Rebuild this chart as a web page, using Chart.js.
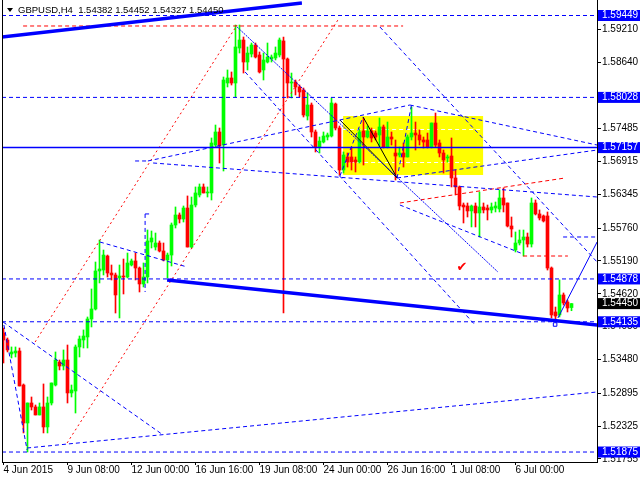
<!DOCTYPE html>
<html>
<head>
<meta charset="utf-8">
<title>GBPUSD,H4</title>
<script src="https://cdn.jsdelivr.net/npm/chart.js@4.4.0/dist/chart.umd.min.js"></script>
<style>
    html, body { margin: 0; padding: 0; background: #fff; }
</style>
</head>
<body>
<canvas id="priceChart" width="640" height="480"></canvas>
<script>
// Global options
const FONT = '"Liberation Sans", Arial, sans-serif';
Chart.defaults.font.family = FONT;
Chart.defaults.font.size = 10;
Chart.defaults.color = '#000';

// H4 candles, one per bar (bar 0 = 4 Jun 2015 16:00)
const opens = [
    1.53940, 1.53819, 1.53576, 1.53594, 1.53628, 1.53038, 1.52379, 1.52726, 1.52657, 1.52518,
    1.52657, 1.52310, 1.52726, 1.53038, 1.53437, 1.53368, 1.53472, 1.52900, 1.52934, 1.53698,
    1.53819, 1.53871, 1.54183, 1.54357, 1.55016, 1.55033, 1.55276, 1.54981, 1.54947, 1.54895,
    1.54929, 1.54912, 1.55120, 1.55190, 1.55068, 1.54791, 1.54912, 1.55519, 1.55432, 1.55502,
    1.55363, 1.55207, 1.55293, 1.55814, 1.55988, 1.55918, 1.56109, 1.55432, 1.56161, 1.56335,
    1.56474, 1.56370, 1.56370, 1.57202, 1.57428, 1.57202, 1.58278, 1.58365, 1.58278, 1.58885,
    1.59024, 1.58642, 1.58781, 1.58937, 1.58764, 1.58504, 1.58642, 1.58694, 1.58712, 1.58764,
    1.59007, 1.58694, 1.58278, 1.58295, 1.58209, 1.58157, 1.57705, 1.57896, 1.57428, 1.57167,
    1.57254, 1.57341, 1.57358, 1.57914, 1.57497, 1.56768, 1.56994, 1.56994, 1.56942, 1.56907,
    1.57445, 1.57341, 1.57445, 1.57410, 1.57376, 1.57515, 1.57167, 1.57341, 1.57063, 1.57029,
    1.57063, 1.56994, 1.57341, 1.57410, 1.57376, 1.57289, 1.57289, 1.57167, 1.57584, 1.57237,
    1.57063, 1.56977, 1.57011, 1.56630, 1.56474, 1.56161, 1.56144, 1.56058, 1.56144, 1.56023,
    1.56127, 1.56109, 1.56075, 1.56109, 1.56092, 1.56283, 1.56196, 1.55797, 1.55380, 1.55502,
    1.55554, 1.55606, 1.55484, 1.56196, 1.56006, 1.55971, 1.55971, 1.55068, 1.54305, 1.54253,
    1.54600, 1.54478, 1.54382,
];
const highs = [
    1.54027, 1.53854, 1.53698, 1.53698, 1.53680, 1.53056, 1.52726, 1.52830, 1.52691, 1.52726,
    1.53056, 1.52830, 1.53073, 1.53611, 1.53472, 1.53646, 1.53732, 1.53038, 1.53732, 1.53888,
    1.53993, 1.54218, 1.54704, 1.55172, 1.55554, 1.55380, 1.55293, 1.55120, 1.54981, 1.55120,
    1.55224, 1.55328, 1.55224, 1.55328, 1.55086, 1.55155, 1.55727, 1.55710, 1.55675, 1.55537,
    1.55502, 1.55328, 1.55849, 1.56127, 1.56023, 1.56144, 1.56318, 1.56300, 1.56474, 1.56526,
    1.56526, 1.56474, 1.57324, 1.57549, 1.57497, 1.58382, 1.58504, 1.58469, 1.59284, 1.59284,
    1.59076, 1.58903, 1.58972, 1.58972, 1.58816, 1.58798, 1.58972, 1.58764, 1.58903, 1.59059,
    1.59076, 1.58712, 1.58451, 1.58330, 1.58243, 1.58191, 1.58105, 1.57931, 1.57463, 1.57341,
    1.57428, 1.57410, 1.58018, 1.57931, 1.57532, 1.57081, 1.57063, 1.57167, 1.56994, 1.57480,
    1.57671, 1.57532, 1.57497, 1.57445, 1.57671, 1.57549, 1.57601, 1.57428, 1.57289, 1.57167,
    1.57237, 1.57376, 1.57862, 1.57601, 1.57463, 1.57341, 1.57410, 1.57584, 1.57757, 1.57289,
    1.57115, 1.57029, 1.57324, 1.56768, 1.56491, 1.56196, 1.56196, 1.56161, 1.56196, 1.56387,
    1.56196, 1.56161, 1.56196, 1.56213, 1.56422, 1.56456, 1.56196, 1.55953, 1.55693, 1.55727,
    1.55727, 1.55675, 1.56283, 1.56248, 1.56075, 1.55988, 1.56040, 1.55086, 1.54391, 1.54860,
    1.54635, 1.54513, 1.54452,
];
const lows = [
    1.53420, 1.53611, 1.53507, 1.53524, 1.53021, 1.52206, 1.51876, 1.52604, 1.52518, 1.52518,
    1.52206, 1.52206, 1.52691, 1.53021, 1.53299, 1.53299, 1.52726, 1.52830, 1.52552, 1.53524,
    1.53680, 1.53680, 1.54045, 1.54339, 1.54808, 1.54947, 1.54912, 1.54860, 1.54287, 1.54201,
    1.54617, 1.54895, 1.55103, 1.54860, 1.54652, 1.54739, 1.54808, 1.55415, 1.55380, 1.55346,
    1.55190, 1.54895, 1.55103, 1.55762, 1.55849, 1.55866, 1.55432, 1.55415, 1.56127, 1.56300,
    1.56370, 1.56300, 1.56248, 1.57167, 1.56890, 1.56751, 1.58209, 1.58243, 1.58035, 1.58798,
    1.58451, 1.58504, 1.58729, 1.58712, 1.58451, 1.58330, 1.58625, 1.58642, 1.58677, 1.58729,
    1.54287, 1.58018, 1.58018, 1.58070, 1.58035, 1.57688, 1.57636, 1.57341, 1.57081, 1.57063,
    1.57237, 1.57289, 1.57341, 1.57463, 1.56682, 1.56716, 1.56820, 1.56768, 1.56734, 1.56890,
    1.56855, 1.57324, 1.57254, 1.57289, 1.57167, 1.57150, 1.57150, 1.57202, 1.56595, 1.56994,
    1.56820, 1.56994, 1.57289, 1.57115, 1.57202, 1.57150, 1.57150, 1.57150, 1.57167, 1.56994,
    1.56716, 1.56907, 1.56474, 1.56335, 1.56075, 1.55849, 1.55953, 1.55780, 1.55780, 1.55606,
    1.56023, 1.55901, 1.56023, 1.56040, 1.56040, 1.56040, 1.55780, 1.55606, 1.55346, 1.55467,
    1.55276, 1.55432, 1.55432, 1.55988, 1.55901, 1.55866, 1.55033, 1.54201, 1.54135, 1.54218,
    1.54426, 1.54305, 1.54327,
];
const closes = [
    1.53819, 1.53646, 1.53611, 1.53628, 1.53021, 1.52379, 1.52726, 1.52657, 1.52518, 1.52657,
    1.52310, 1.52726, 1.53073, 1.53472, 1.53368, 1.53472, 1.52900, 1.52952, 1.53698, 1.53836,
    1.53888, 1.54183, 1.54357, 1.55016, 1.55051, 1.55293, 1.54981, 1.54947, 1.54600, 1.54929,
    1.54912, 1.55155, 1.55190, 1.55068, 1.54791, 1.54912, 1.55537, 1.55589, 1.55502, 1.55363,
    1.55207, 1.55293, 1.55814, 1.55988, 1.55918, 1.56109, 1.55432, 1.56161, 1.56370, 1.56474,
    1.56370, 1.56387, 1.57237, 1.57428, 1.57185, 1.58330, 1.58365, 1.58278, 1.58903, 1.59024,
    1.58642, 1.58798, 1.58937, 1.58729, 1.58469, 1.58677, 1.58729, 1.58729, 1.58798, 1.59024,
    1.58694, 1.58278, 1.58295, 1.58209, 1.58122, 1.57723, 1.57896, 1.57428, 1.57167, 1.57271,
    1.57358, 1.57376, 1.57931, 1.57497, 1.56768, 1.57029, 1.56907, 1.56907, 1.56907, 1.57428,
    1.57341, 1.57445, 1.57324, 1.57341, 1.57515, 1.57167, 1.57341, 1.57306, 1.57011, 1.57063,
    1.56994, 1.57341, 1.57410, 1.57376, 1.57289, 1.57254, 1.57167, 1.57584, 1.57202, 1.57063,
    1.56942, 1.56994, 1.56630, 1.56474, 1.56144, 1.56127, 1.56058, 1.56144, 1.56023, 1.56127,
    1.56075, 1.56075, 1.56127, 1.56144, 1.56283, 1.56161, 1.55797, 1.55745, 1.55502, 1.55554,
    1.55606, 1.55484, 1.56196, 1.56006, 1.55936, 1.55884, 1.55068, 1.54253, 1.54235, 1.54600,
    1.54461, 1.54374, 1.54450,
];

// time axis labels and the bars they sit on
const timeLabels = ['4 Jun 2015', '9 Jun 08:00', '12 Jun 00:00', '16 Jun 16:00', '19 Jun 08:00',
    '24 Jun 00:00', '26 Jun 16:00', '1 Jul 08:00', '6 Jul 00:00'];
const timeLabelBars = [0, 16, 32, 48, 64, 80, 96, 112, 128];

// price scale
const priceTicks = [1.59210, 1.58640, 1.57485, 1.56915, 1.56345, 1.55760, 1.55190,
    1.54620, 1.54050, 1.53480, 1.52895, 1.52325, 1.51755];
const markedLevels = [1.59449, 1.58028, 1.57157, 1.54878, 1.54135, 1.51875];
const lastPrice = 1.54450;
const headerText = 'GBPUSD,H4  1.54382 1.54452 1.54327 1.54450';

// drawn objects: [bar, price, bar, price]
const dashedLevels = [1.59449, 1.58028, 1.54878, 1.54135, 1.51875];
const solidLevels = [1.57157];
const blueDashed = [
    [60.4, 1.58469, 117.9, 1.54079],
    [94.1, 1.59250, 148.4, 1.55172],
    [36.1, 1.56925, 101.6, 1.57896],
    [101.6, 1.57896, 148.4, 1.57202],
    [32.9, 1.56925, 36.1, 1.56925],
    [37.4, 1.56890, 148.4, 1.56300],
    [84.1, 1.56664, 89.9, 1.57688],
    [98.4, 1.56630, 102.1, 1.57931],
    [98.4, 1.56630, 148.4, 1.57115],
    [99.1, 1.56161, 129.9, 1.55311],
    [-0.1, 1.54131, 39.9, 1.52171],
    [0.1, 1.54079, 5.9, 1.51911],
    [5.9, 1.51945, 148.4, 1.52917],
    [24.1, 1.55519, 45.9, 1.55086],
    [35.4, 1.56006, 35.4, 1.54652],
    [35.4, 1.56006, 36.4, 1.56006],
    [139.9, 1.55606, 148.4, 1.55606],
];
const blueDotted = [[58.4, 1.59250, 123.6, 1.54999]];
const blueThin = [[138.6, 1.54201, 148.4, 1.55519]];
const blueThick = [
    [-0.4, 1.59076, 74.6, 1.59666],
    [40.9, 1.54860, 148.4, 1.54079],
];
const blackThin = [
    [84.1, 1.57636, 98.4, 1.56630],
    [89.9, 1.57688, 98.4, 1.56630],
];
const redDashed = [
    [4.9, 1.59267, 99.9, 1.59267],
    [99.1, 1.56196, 140.4, 1.56630],
    [129.9, 1.55276, 141.1, 1.55276],
];
const redDotted = [
    [7.9, 1.53784, 58.4, 1.59284],
    [15.9, 1.52032, 83.6, 1.59371],
];
const rangeBox = [84.9, 119.9, 1.57705, 1.56682];
const rangeBoxLevels = [1.57480, 1.56907];
const lowMark = [137.9, 1.54088];
const checkMark = [114.6, 1.55068];

const X_MIN = -0.375;
const X_MAX = 148.375;
const Y_MIN = 1.51702;
const Y_MAX = 1.59718;

const BLUE = '#0000ff';
const RED = '#ff0000';
const GREEN = '#00ff00';

let candleColor = (i) => closes[i] >= opens[i] ? GREEN : RED;

let segment = (s, color, dash, width) => {
    return {
        type: 'line',
        data: [{x: s[0], y: s[1]}, {x: s[2], y: s[3]}],
        borderColor: color,
        borderWidth: width,
        borderDash: dash,
        pointRadius: 0,
        fill: false,
        tension: 0,
        order: 0,
    };
};

let objectSets = [
    ...dashedLevels.map(v => segment([X_MIN, v, X_MAX, v], BLUE, [4, 3], 1)),
    ...solidLevels.map(v => segment([X_MIN, v, X_MAX, v], BLUE, [], 1.5)),
    ...blueDashed.map(s => segment(s, BLUE, [4, 3], 1)),
    ...blueDotted.map(s => segment(s, BLUE, [2, 1], 1)),
    ...blueThin.map(s => segment(s, BLUE, [], 1)),
    ...blueThick.map(s => segment(s, BLUE, [], 3.5)),
    ...blackThin.map(s => segment(s, '#000', [], 1)),
    ...redDashed.map(s => segment(s, RED, [4, 3], 1)),
    ...redDotted.map(s => segment(s, RED, [2, 3], 1)),
];

// yellow range box, left border and the header text
const mt4Extras = {
    id: 'mt4Extras',
    beforeDatasetsDraw: (chart) => {
        const {ctx, scales: {x, y}} = chart;
        const left = x.getPixelForValue(rangeBox[0]);
        const right = x.getPixelForValue(rangeBox[1]);
        const top = y.getPixelForValue(rangeBox[2]);
        const bottom = y.getPixelForValue(rangeBox[3]);
        ctx.save();
        ctx.fillStyle = '#ffff00';
        ctx.fillRect(left, top, right - left, bottom - top);
        ctx.strokeStyle = '#fff';
        ctx.lineWidth = 1;
        ctx.setLineDash([4, 3]);
        rangeBoxLevels.forEach(v => {
            const py = Math.round(y.getPixelForValue(v)) + 0.5;
            ctx.beginPath();
            ctx.moveTo(left, py);
            ctx.lineTo(right, py);
            ctx.stroke();
        });
        ctx.restore();
    },
    afterDatasetsDraw: (chart) => {
        const {ctx, scales: {x, y}} = chart;
        ctx.save();
        ctx.fillStyle = RED;
        ctx.font = '13px "DejaVu Sans"';
        ctx.textAlign = 'center';
        ctx.textBaseline = 'middle';
        ctx.fillText('\u2714', x.getPixelForValue(checkMark[0]), y.getPixelForValue(checkMark[1]));
        ctx.restore();
    },
    afterDraw: (chart) => {
        const {ctx, chartArea} = chart;
        ctx.save();
        ctx.strokeStyle = '#000';
        ctx.lineWidth = 1;
        ctx.beginPath();
        ctx.moveTo(chartArea.left + 0.5, chartArea.top);
        ctx.lineTo(chartArea.left + 0.5, chartArea.bottom);
        ctx.stroke();
        // little triangle and the symbol line
        ctx.fillStyle = '#000';
        ctx.beginPath();
        ctx.moveTo(7, 8);
        ctx.lineTo(13, 8);
        ctx.lineTo(10, 12);
        ctx.closePath();
        ctx.fill();
        ctx.font = '9.5px ' + FONT;
        ctx.textBaseline = 'middle';
        ctx.fillText(headerText, 18, 10);
        ctx.restore();
    },
};

let isMarked = (v) => markedLevels.includes(v) || v === lastPrice;

let priceChart = new Chart(document.getElementById('priceChart').getContext('2d'), {
    type: 'bar',
    data: {
        datasets: [
            ...objectSets,
            {
                type: 'line',
                data: [{x: lowMark[0], y: lowMark[1]}],
                showLine: false,
                pointStyle: 'rect',
                pointRadius: 2.5,
                pointBorderWidth: 1,
                pointBorderColor: BLUE,
                pointBackgroundColor: '#fff',
                order: 0,
            },
            {
                // candle bodies
                data: opens.map((o, i) => ({x: i, y: [o, closes[i]]})),
                backgroundColor: opens.map((o, i) => candleColor(i)),
                barThickness: 3,
                minBarLength: 1,
                grouped: false,
                borderWidth: 0,
                order: 1,
            },
            {
                // wicks
                data: opens.map((o, i) => ({x: i, y: [lows[i], highs[i]]})),
                backgroundColor: opens.map((o, i) => candleColor(i)),
                barThickness: 1,
                grouped: false,
                borderWidth: 0,
                order: 2,
            },
        ]
    },
    options: {
        responsive: false,
        animation: false,
        events: [],
        layout: {
            autoPadding: false,
            padding: {left: 2, top: 0, right: 0, bottom: 0}
        },
        plugins: {
            legend: {display: false},
            tooltip: {enabled: false},
            title: {display: false},
        },
        scales: {
            x: {
                type: 'linear',
                min: X_MIN,
                max: X_MAX,
                offset: false,
                afterBuildTicks: (scale) => {
                    scale.ticks = timeLabelBars.map(v => ({value: v}));
                },
                afterFit: (scale) => {
                    scale.height = 18;
                    scale.paddingLeft = 0;
                    scale.paddingRight = 0;
                },
                grid: {
                    display: true,
                    drawOnChartArea: false,
                    offset: false,
                    tickLength: 3,
                    color: '#000',
                },
                border: {display: true, color: '#000'},
                ticks: {
                    autoSkip: false,
                    maxRotation: 0,
                    align: 'start',
                    padding: 0,
                    color: '#000',
                    font: {size: 10, lineHeight: 1.1},
                    callback: (v, i) => timeLabels[i],
                },
            },
            y: {
                type: 'linear',
                position: 'right',
                min: Y_MIN,
                max: Y_MAX,
                afterBuildTicks: (scale) => {
                    scale.ticks = [...priceTicks, ...markedLevels, lastPrice].map(v => ({value: v}));
                },
                afterFit: (scale) => {
                    scale.width = 43;
                    scale.paddingTop = 0;
                    scale.paddingBottom = 0;
                },
                grid: {
                    display: true,
                    drawOnChartArea: false,
                    tickLength: 4,
                    color: '#000',
                },
                border: {display: true, color: '#000'},
                ticks: {
                    autoSkip: false,
                    padding: 1,
                    font: {size: 10, lineHeight: 1.1},
                    color: (ctx) => isMarked(ctx.tick.value) ? '#fff' : '#000',
                    showLabelBackdrop: (ctx) => isMarked(ctx.tick.value),
                    backdropColor: (ctx) => ctx.tick.value === lastPrice ? '#000' : BLUE,
                    backdropPadding: {left: 4, right: 4, top: 0, bottom: 0},
                    callback: (v) => v.toFixed(5),
                },
            },
        },
    },
    plugins: [mt4Extras],
});
</script>
</body>
</html>
